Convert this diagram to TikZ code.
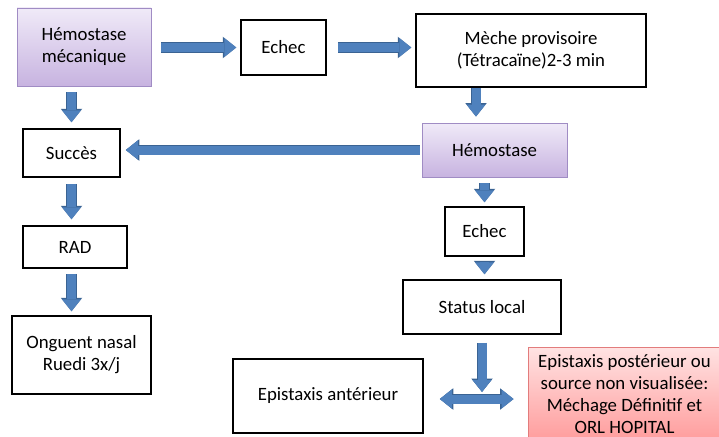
\documentclass[tikz,border=0pt]{standalone}
\usepackage{fontspec}
\setmainfont{Carlito}
\usetikzlibrary{arrows.meta}
\definecolor{arrfill}{HTML}{4F81BD}
\definecolor{arrline}{HTML}{3A6393}
\definecolor{lavtop}{HTML}{F0EAF8}
\definecolor{lavbot}{HTML}{C7B3E0}
\definecolor{lavline}{HTML}{A08CC4}
\definecolor{redtop}{HTML}{FFE3E3}
\definecolor{redbot}{HTML}{FF9C9C}
\definecolor{redline}{HTML}{E27C7C}
\tikzset{
  box/.style={draw=black, line width=1.5pt, align=center, inner sep=0pt},
  lavbox/.style={draw=lavline, line width=0.9pt, top color=lavtop, bottom color=lavbot, align=center, inner sep=0pt},
  redbox/.style={draw=redline, line width=0.9pt, top color=redtop, bottom color=redbot, align=center, inner sep=0pt},
  blockarr/.style={draw=arrfill, line width=9pt, -{Triangle[width=19pt,length=12pt,line width=0pt]},
    preaction={draw=arrline, line width=10.4pt, -{Triangle[width=21.5pt,length=13.5pt,line width=0pt]}}},
  blockboth/.style={draw=arrfill, line width=9pt, {Triangle[width=19pt,length=12pt,line width=0pt]}-{Triangle[width=19pt,length=12pt,line width=0pt]},
    preaction={draw=arrline, line width=10.4pt, {Triangle[width=21.5pt,length=13.5pt,line width=0pt]}-{Triangle[width=21.5pt,length=13.5pt,line width=0pt]}}}
}
\begin{document}
\begin{tikzpicture}[x=1pt, y=-1pt, font=\fontsize{18.8}{22}\selectfont]
	\useasboundingbox (0,0) rectangle (719,436);
	\clip (0,0) rectangle (719,436);
	% left column
	\node[lavbox, minimum width=134pt, minimum height=78pt] (meca) at (84,47) {Hémostase\\mécanique};
	\node[box, minimum width=97pt, minimum height=48pt] (succes) at (71.5,153) {Succès};
	\node[box, minimum width=104pt, minimum height=42pt] (rad) at (75,247) {RAD};
	\node[box, minimum width=139pt, minimum height=78pt] (onguent) at (81.5,355) {Onguent nasal\\Ruedi 3x/j};
	% top row and right column
	\node[box, minimum width=85pt, minimum height=55pt] (echecA) at (283.5,47.5) {Echec};
	\node[box, minimum width=230pt, minimum height=73pt] (meche) at (531,50.5) {Mèche provisoire\\(Tétracaïne)2-3 min};
	\node[lavbox, minimum width=145pt, minimum height=54pt] (hemo) at (494.5,150) {Hémostase};
	\node[box, minimum width=79pt, minimum height=49pt] (echecB) at (484.5,231.5) {Echec};
	\node[box, minimum width=158pt, minimum height=54pt] (status) at (482,307) {Status local};
	\node[box, minimum width=190pt, minimum height=74pt] (epiant) at (328,396) {Epistaxis antérieur};
	\node[redbox, minimum width=193pt, minimum height=94pt] (orl) at (624.5,394) {Epistaxis postérieur ou\\source non visualisée:\\ Méchage Définitif et\\ORL HOPITAL};
	\coordinate (junc) at (482,392);
	% block arrows
	\draw[blockarr, shorten <=10pt, shorten >=4pt] (meca.east |- echecA) -- (echecA.west);
	\draw[blockarr, shorten <=11pt, shorten >=4pt] (echecA.east) -- (meche.west |- echecA.east);
	\draw[blockarr, shorten >=6pt] ([xshift=-55pt]meche.south) -- ([xshift=-55pt]meche.south |- hemo.north);
	\draw[blockarr, shorten <=2pt, shorten >=5pt] (hemo.west) -- (succes.east |- hemo.west);
	\draw[blockarr, shorten <=6pt, shorten >=6pt] (succes.north |- meca.south) -- (succes.north);
	\draw[blockarr, shorten <=6pt, shorten >=6pt] (succes.south) -- (succes.south |- rad.north);
	\draw[blockarr, shorten <=5pt, shorten >=4pt] (succes.south |- rad.south) -- (succes.south |- onguent.north);
	\draw[blockarr, shorten <=6pt, shorten >=4pt] (echecB.north |- hemo.south) -- (echecB.north);
	\draw[blockarr, shorten <=5pt, shorten >=5pt] (echecB.south) -- (echecB.south |- status.north);
	\draw[blockarr, shorten <=8pt] (status.south) -- (junc);
	\draw[blockboth, shorten <=16pt, shorten >=14pt] ([yshift=-3pt]epiant.east) -- ([yshift=-3pt]orl.west |- epiant.east);
\end{tikzpicture}
\end{document}
